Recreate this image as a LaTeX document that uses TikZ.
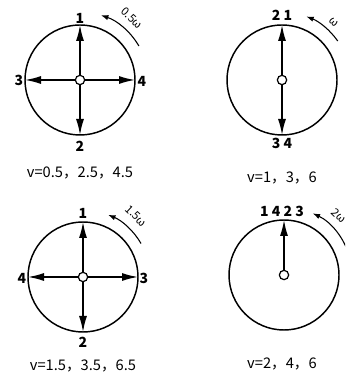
\documentclass[tikz,border=0pt]{standalone}
\usepackage{fontspec}
\newfontfamily\cjk{Noto Sans CJK SC}
\usetikzlibrary{arrows.meta,positioning}

\begin{document}
\begin{tikzpicture}[x=0.75pt,y=0.75pt,
    wheel/.style={line width=1.1pt},
    hub/.style={circle,draw,fill=white,line width=0.9pt,inner sep=0pt,minimum size=7pt},
    vec/.style={line width=1.1pt,-{Latex[length=12pt,width=6pt]}},
    spin/.style={line width=0.8pt,{Latex[length=5.5pt,width=4pt]}-},
    num/.style={font=\cjk\bfseries\fontsize{10.5}{12}\selectfont,inner sep=1pt},
    vtext/.style={font=\cjk\fontsize{11}{13}\selectfont},
    rate/.style={font=\cjk\fontsize{8.5}{10}\selectfont,inner sep=0pt}]
    \useasboundingbox (0,0) rectangle (345,373);
    \clip (0,0) rectangle (345,373);

    % Wheel v=0.5
    \draw[wheel] (80,293) circle (55);
    \coordinate (a1) at (80,348);
    \coordinate (a2) at (80,238);
    \coordinate (a3) at (25,293);
    \coordinate (a4) at (135,293);
    \node[hub] (ha) at (80,293) {};
    \draw[vec] (ha) -- (a1);
    \draw[vec] (ha) -- (a2);
    \draw[vec] (ha) -- (a3);
    \draw[vec] (ha) -- (a4);
    \node[num] (la1) at (80,355) {1};
    \node[num] (la2) at (80,227) {2};
    \node[num] (la3) at (19,293) {3};
    \node[num] (la4) at (142,292) {4};
    \draw[spin] ([shift={(72:68)}]80,293) arc[start angle=72,end angle=30,radius=68];
    \node[rate,rotate=-42] (wa) at ([shift={(50:81)}]80,293) {0.5ω};
    \node[vtext] (ca) at (80,200) {v=0.5，2.5，4.5};

    % Wheel v=1
    \draw[wheel] (282,293) circle (55);
    \coordinate (b1) at (282,348);
    \coordinate (b2) at (282,238);
    \node[hub] (hb) at (282,293) {};
    \draw[vec] (hb) -- (b1);
    \draw[vec] (hb) -- (b2);
    \node[num] (lb1) at (282,358) {2 1};
    \node[num] (lb2) at (282,230) {3 4};
    \draw[spin] ([shift={(69:68)}]282,293) arc[start angle=69,end angle=35,radius=68];
    \node[rate,rotate=-43] (wb) at ([shift={(48:78)}]282,293) {ω};
    \node[vtext] (cb) at (282,195) {v=1，3，6};

    % Wheel v=1.5
    \draw[wheel] (83,96) circle (55);
    \coordinate (c1) at (83,151);
    \coordinate (c2) at (83,41);
    \coordinate (c3) at (138,96);
    \coordinate (c4) at (28,96);
    \node[hub] (hc) at (83,96) {};
    \draw[vec] (hc) -- (c1);
    \draw[vec] (hc) -- (c2);
    \draw[vec] (hc) -- (c3);
    \draw[vec] (hc) -- (c4);
    \node[num] (lc1) at (83,160) {1};
    \node[num] (lc2) at (83,31) {2};
    \node[num] (lc3) at (144,95) {3};
    \node[num] (lc4) at (22,95) {4};
    \draw[spin] ([shift={(68:67)}]83,96) arc[start angle=68,end angle=30,radius=67];
    \node[rate,rotate=-43] (wc) at ([shift={(49:81)}]83,96) {1.5ω};
    \node[vtext] (cc) at (83,7) {v=1.5，3.5，6.5};

    % Wheel v=2
    \draw[wheel] (284,98) circle (55);
    \coordinate (d1) at (284,153);
    \node[hub] (hd) at (284,98) {};
    \draw[vec] (hd) -- (d1);
    \node[num] (ld1) at (282,162) {1 4 2 3};
    \draw[spin] ([shift={(65:68)}]284,98) arc[start angle=65,end angle=15,radius=68];
    \node[rate,rotate=-44] (wd) at ([shift={(47:81)}]284,98) {2ω};
    \node[vtext] (cd) at (282,9) {v=2，4，6};
\end{tikzpicture}
\end{document}
